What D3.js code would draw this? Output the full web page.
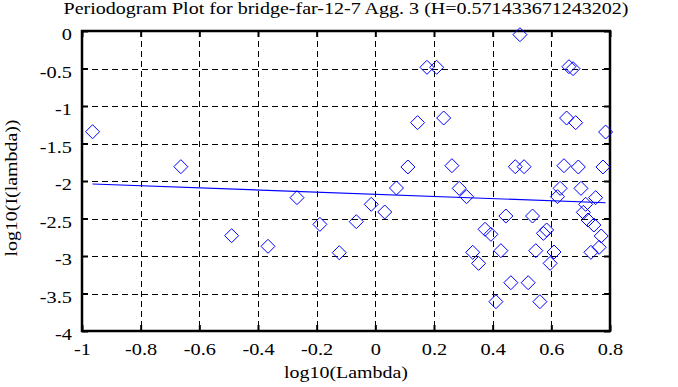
<!DOCTYPE html>
<html><head><meta charset="utf-8">
<script src="https://cdn.jsdelivr.net/npm/d3@7"></script>
<style>body{margin:0;background:#fff}svg{display:block}</style>
</head><body><svg id="c" width="678" height="387"></svg>
<script>
const title = "Periodogram Plot for bridge-far-12-7 Agg. 3 (H=0.571433671243202)";
const xLabel = "log10(Lambda)";
const yLabel = "log10(I(lambda))";
const logLambda = [-0.964,-0.663,-0.490,-0.366,-0.267,-0.189,-0.123,-0.065,-0.014,0.032,0.072,0.111,0.144,0.176,0.209,0.233,0.261,0.286,0.311,0.332,0.352,0.374,0.394,0.411,0.428,0.445,0.462,0.477,0.493,0.507,0.521,0.536,0.547,0.561,0.573,0.584,0.596,0.609,0.621,0.630,0.643,0.652,0.660,0.674,0.683,0.692,0.701,0.709,0.717,0.725,0.735,0.745,0.751,0.763,0.770,0.776,0.785];
const logPeriodogram = [-1.343,-1.809,-2.729,-2.871,-2.222,-2.578,-2.956,-2.542,-2.311,-2.413,-2.093,-1.813,-1.222,-0.484,-0.484,-1.160,-1.796,-2.098,-2.209,-2.951,-3.098,-2.644,-2.711,-3.609,-2.929,-2.467,-3.356,-1.809,-0.049,-1.809,-3.356,-2.467,-2.929,-3.609,-2.698,-2.653,-3.098,-2.947,-2.209,-2.098,-1.796,-1.160,-0.476,-0.502,-1.222,-1.813,-2.098,-2.418,-2.311,-2.520,-2.951,-2.587,-2.222,-2.884,-2.733,-1.813,-1.347];
const fitX = [-0.964, 0.785];
const fitY = [-2.04, -2.29];
const xTicks = [-1,-0.8,-0.6,-0.4,-0.2,0,0.2,0.4,0.6,0.8];
const yTicks = [0,-0.5,-1,-1.5,-2,-2.5,-3,-3.5,-4];

const FONT='"Liberation Serif","Times New Roman",serif';
const L=82,R=610,T=31,B=331;
const svg=d3.select("#c");
const x=d3.scaleLinear().domain([-1,0.8]).range([L,R]);
const y=d3.scaleLinear().domain([-4,0]).range([B,T]);
const fmt=d=>String(d);
const SX=1.27;

// grid
const g=svg.append("g");
g.selectAll("line.vx").data(xTicks.slice(1,-1)).join("line")
 .attr("x1",d=>Math.round(x(d))+0.5).attr("x2",d=>Math.round(x(d))+0.5).attr("y1",T).attr("y2",B)
 .attr("stroke","#000").attr("stroke-width",1).attr("stroke-dasharray","6,4");
g.selectAll("line.hy").data(yTicks.slice(1,-1)).join("line")
 .attr("y1",d=>Math.round(y(d))+0.5).attr("y2",d=>Math.round(y(d))+0.5).attr("x1",L).attr("x2",R)
 .attr("stroke","#000").attr("stroke-width",1).attr("stroke-dasharray","6,4");

// axes (inward ticks)
const tk=6;
const ax=svg.append("g").attr("transform",`translate(0,${B})`).call(d3.axisBottom(x).tickValues(xTicks).tickSizeInner(-tk).tickSizeOuter(0).tickFormat(fmt));
svg.append("g").attr("transform",`translate(0,${T})`).call(d3.axisTop(x).tickValues(xTicks).tickSizeInner(-tk).tickSizeOuter(0).tickFormat(""));
const ay=svg.append("g").attr("transform",`translate(${L},0)`).call(d3.axisLeft(y).tickValues(yTicks).tickSizeInner(-tk).tickSizeOuter(0).tickFormat(fmt));
svg.append("g").attr("transform",`translate(${R},0)`).call(d3.axisRight(y).tickValues(yTicks).tickSizeInner(-tk).tickSizeOuter(0).tickFormat(""));
svg.selectAll(".domain").remove();
svg.selectAll(".tick line").attr("stroke","#000").attr("stroke-width",2);
ax.selectAll(".tick text").attr("y",24).attr("dy",null).attr("x",0).attr("transform",`scale(${SX},1)`);
ay.selectAll(".tick text").attr("x",-10/SX).attr("dy",null).attr("y",8.5).attr("transform",`scale(${SX},1)`);
svg.selectAll(".tick text").style("font-family",FONT).style("font-size","16px").attr("fill","#000");
svg.append("rect").attr("x",L).attr("y",T).attr("width",R-L).attr("height",B-T).attr("fill","none").attr("stroke","#000").attr("stroke-width",2.5);

// fit line
svg.append("line").attr("x1",x(fitX[0])).attr("y1",y(fitY[0])).attr("x2",x(fitX[1])).attr("y2",y(fitY[1])).attr("stroke","#0000ff").attr("stroke-width",1.2);

// diamonds
const s=7;
svg.append("g").selectAll("path").data(logLambda.map((d,i)=>[d,logPeriodogram[i]])).join("path")
 .attr("d",d=>{const cx=x(d[0]),cy=y(d[1]);return `M${cx},${cy-s}L${cx+s},${cy}L${cx},${cy+s}L${cx-s},${cy}Z`;})
 .attr("fill","none").attr("stroke","#0000ff").attr("stroke-width",1);

// texts
function txt(str,tr,len){
  return svg.append("text").attr("transform",tr).attr("text-anchor","middle")
   .attr("textLength",len).attr("lengthAdjust","spacingAndGlyphs")
   .style("font-family",FONT).style("font-size","17px").attr("fill","#000").text(str);
}
txt(title,`translate(${(L+R)/2},14)`,565);
txt(xLabel,`translate(${(L+R)/2},378)`,124);
txt(yLabel,"translate(17,188) rotate(-90)",137);
</script></body></html>
